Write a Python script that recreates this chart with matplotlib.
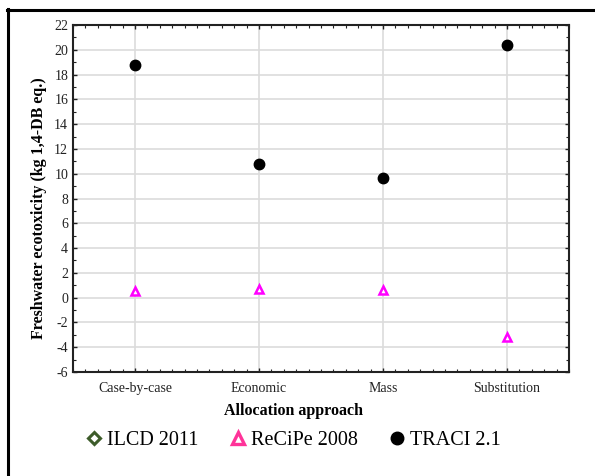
import matplotlib.pyplot as plt
from matplotlib.lines import Line2D
from matplotlib.ticker import MultipleLocator

plt.rcParams['font.family'] = ['Liberation Serif', 'DejaVu Serif']
plt.rcParams['axes.unicode_minus'] = False

# data
approaches = ['Case-by-case', 'Economic', 'Mass', 'Substitution']
traci = [18.8, 10.8, 9.65, 20.35]
recipe = [0.55, 0.68, 0.62, -3.15]
series_names = ['ILCD 2011', 'ReCiPe 2008', 'TRACI 2.1']

W, H = 595, 476
fig = plt.figure(figsize=(W / 100, H / 100), dpi=100)
ax = fig.add_axes([73 / W, 1 - 372 / H, 496 / W, 347 / H])

x = list(range(1, len(approaches) + 1))
ax.plot(x, recipe, linestyle='none', marker='^', markersize=5.5, markerfacecolor='white',
        markeredgecolor='#ff00ff', markeredgewidth=1.8, zorder=3)
ax.plot(x, traci, linestyle='none', marker='o', markersize=7.5, color='black', zorder=3)

ax.set_xlim(0.5, 4.5)
ax.set_ylim(-6, 22)
ax.set_xticks(x)
ax.set_xticklabels(approaches)
ax.xaxis.set_minor_locator(MultipleLocator(0.1))
ax.yaxis.set_major_locator(MultipleLocator(2))
ax.yaxis.set_minor_locator(MultipleLocator(1))
ax.tick_params(which='both', direction='in', top=True, right=True, labelsize=10,
               colors='#222222', labelcolor='#222222')
ax.tick_params(which='major', length=3, width=1)
ax.tick_params(which='minor', length=2, width=0.8)
ax.tick_params(axis='x', pad=7)
ax.grid(True, which='major', color='#dcdcdc', linewidth=1.2)
ax.set_axisbelow(True)
for s in ax.spines.values():
    s.set_linewidth(1.5)
    s.set_color('#222222')

ax.set_ylabel('Freshwater ecotoxicity (kg 1,4-DB eq.)', fontsize=11.5, fontweight='bold')
ax.yaxis.set_label_coords(-0.053, 0.471)
fig.text(294 / W, 1 - 411 / H, 'Allocation approach', fontsize=11.5, fontweight='bold',
         ha='center', va='center')

# legend
handles = [
    Line2D([], [], linestyle='none', marker='D', markersize=6, markerfacecolor='white',
           markeredgecolor='#3d5c2a', markeredgewidth=2.2),
    Line2D([], [], linestyle='none', marker='^', markersize=9, markerfacecolor='white',
           markeredgecolor='#ff3399', markeredgewidth=2.4),
    Line2D([], [], linestyle='none', marker='o', markersize=9, color='black'),
]
fig.legend(handles, series_names, loc='center', bbox_to_anchor=(292 / W, 1 - 440 / H),
           ncol=3, frameon=False, fontsize=14.5, handletextpad=0.1, columnspacing=1.4,
           handlelength=1.1)

# outer frame (left and top edges)
fig.add_artist(Line2D([8 / W, 8 / W], [0, 1 - 9 / H], transform=fig.transFigure,
                      color='black', linewidth=2.2))
fig.add_artist(Line2D([7 / W, 1], [1 - 10 / H, 1 - 10 / H], transform=fig.transFigure,
                      color='black', linewidth=2.2))

fig.savefig('out.png', dpi=100)
